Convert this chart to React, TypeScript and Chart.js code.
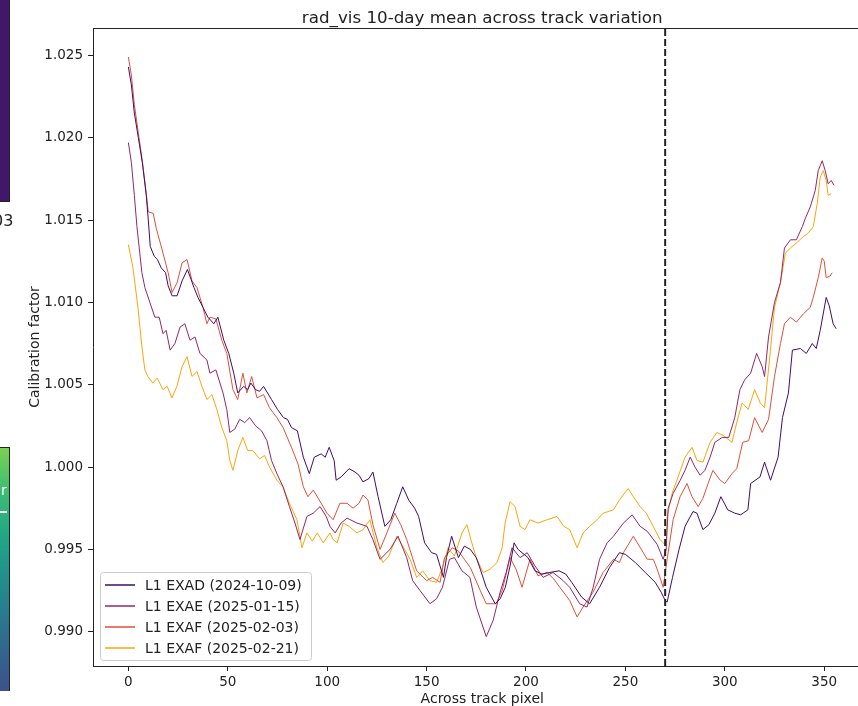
import React, { useEffect, useRef } from "react";
import { Chart, registerables } from "chart.js";

Chart.register(...registerables);

// ---------- data ----------
const chartTitle = "rad_vis 10-day mean across track variation";
const xAxisTitle = "Across track pixel";
const yAxisTitle = "Calibration factor";

const xTicks = [0, 50, 100, 150, 200, 250, 300, 350];
const yTicks = [0.99, 0.995, 1.0, 1.005, 1.01, 1.015, 1.02, 1.025];
const xLimits = [-17.8, 373.8];
const xVisibleMax = 367;
const yLimits = [0.98792, 1.02666];
const markerX = 270;

const seriesLabels = [
  "L1 EXAD (2024-10-09)",
  "L1 EXAE (2025-01-15)",
  "L1 EXAF (2025-02-03)",
  "L1 EXAF (2025-02-21)",
];
const seriesColors = ["#420a68", "#932667", "#dd513a", "#fca50a"];

const exadPoints: [number, number][] = [
  [0, 1.0243], [1.5, 1.0232], [3, 1.0215], [5, 1.02], [7, 1.0185], [9, 1.0165], [10, 1.015], [11, 1.0134],
  [13, 1.0128], [14.6, 1.0126], [16.5, 1.0121], [18.7, 1.0118], [20, 1.011], [22, 1.0104], [24.5, 1.0104],
  [27, 1.0113], [29.7, 1.012], [31.5, 1.0114], [33, 1.0109], [35, 1.0103], [37.5, 1.0097], [40, 1.0091],
  [43, 1.0087], [45, 1.0091], [48, 1.0077], [50.5, 1.0069], [53, 1.0057], [55, 1.0045], [58, 1.0049],
  [60, 1.0047], [61.6, 1.0051], [64, 1.0047], [66, 1.0046], [68, 1.0049], [72, 1.0041], [75, 1.0035],
  [78, 1.003], [80, 1.0029], [82, 1.0024], [85, 1.0022], [88, 1.0006], [91, 0.9996], [93.5, 1.0006],
  [97, 1.0008], [99, 1.0006], [101, 1.0012], [103.5, 1.0004], [104.5, 0.9992], [107, 0.9994], [111, 0.9999],
  [114, 0.9997], [116, 0.9995], [118, 0.9991], [121, 0.9993], [123, 0.9997], [125.6, 0.9982], [129, 0.9964],
  [132, 0.9968], [135, 0.9978], [138, 0.9988], [141, 0.998], [144, 0.9975], [146, 0.997], [149, 0.9954],
  [152.5, 0.9948], [155, 0.9947], [158.5, 0.9933], [160, 0.9945], [162.6, 0.9958], [166, 0.9945],
  [169, 0.9952], [172, 0.995], [175, 0.9945], [177, 0.9938], [180, 0.9927], [184.5, 0.9917], [187, 0.992],
  [189.6, 0.9927], [192, 0.994], [194, 0.9954], [196, 0.995], [198, 0.9948], [201, 0.9945], [204.5, 0.9937],
  [208, 0.9935], [212, 0.9936], [216.6, 0.9937], [220, 0.9935], [223, 0.993], [228, 0.9921], [232, 0.9917],
  [237, 0.9927], [242, 0.9939], [247, 0.9948], [250, 0.9947], [255, 0.9942], [260, 0.9936], [265, 0.993],
  [268, 0.9924], [270, 0.9919], [271, 0.9918], [273.7, 0.9933], [277, 0.995], [280, 0.9964], [284, 0.9973],
  [286, 0.9972], [289, 0.9962], [292, 0.9965], [295, 0.9972], [298, 0.9982], [301.5, 0.9974], [305, 0.9972],
  [308, 0.9971], [311.6, 0.9974], [313, 0.999], [317.7, 0.9994], [320, 1.0003], [323, 0.9992], [326.8, 1.0006],
  [329, 1.003], [332, 1.0045], [334, 1.0071], [338, 1.0072], [341, 1.0069], [344, 1.0075], [346, 1.0072],
  [348, 1.0083], [351, 1.0103], [352.5, 1.0098], [354.5, 1.0087], [356, 1.0084],
];

const exaePoints: [number, number][] = [
  [0, 1.0197], [1.5, 1.0185], [3, 1.0165], [4.3, 1.0146], [6.8, 1.0118], [8.3, 1.0109], [10.8, 1.01],
  [13.3, 1.0091], [15.5, 1.0091], [17.4, 1.0081], [19, 1.0083], [21, 1.0071], [23.4, 1.0075], [26, 1.0085],
  [28.4, 1.0087], [31, 1.0077], [33.5, 1.0079], [36, 1.0069], [39.5, 1.0065], [41, 1.0057], [44, 1.0059],
  [47.6, 1.0045], [49.5, 1.0035], [51, 1.0021], [53.5, 1.0023], [56, 1.0029], [58.5, 1.0027], [61, 1.003],
  [64, 1.0025], [67, 1.0022], [69.7, 1.0016], [72, 1.0004], [74.7, 0.9996], [77.8, 0.9988], [81, 0.9976],
  [83.8, 0.9966], [86.3, 0.9956], [89.8, 0.997], [93, 0.9972], [96.4, 0.9976], [99.5, 0.997], [101.4, 0.9964],
  [104, 0.996], [107, 0.9966], [110, 0.9969], [115, 0.9966], [120, 0.9964], [123, 0.9956], [126.6, 0.9944],
  [131.6, 0.995], [135.6, 0.9958], [140, 0.9945], [143, 0.9931], [146.7, 0.9925], [151.7, 0.9917],
  [155, 0.992], [158, 0.9927], [161.5, 0.9944], [164, 0.9945], [167.8, 0.9937], [171.8, 0.9933], [175, 0.9915],
  [180, 0.9897], [183.5, 0.9907], [187, 0.9924], [190, 0.9936], [193, 0.9951], [197, 0.9945], [200.6, 0.9948],
  [204.5, 0.994], [208.6, 0.9933], [213.6, 0.9936], [218.7, 0.9931], [222, 0.9927], [227, 0.9917],
  [230.7, 0.9915], [233.8, 0.9927], [237, 0.9944], [240.8, 0.9954], [244, 0.9958], [249, 0.9966],
  [253.4, 0.9971], [257.4, 0.9964], [261, 0.9961], [266, 0.9953], [269, 0.9944], [270.5, 0.995],
  [271.5, 0.9975], [274, 0.9984], [277.6, 0.9992], [280, 0.9998], [282.6, 1.0006], [285, 1.0], [287.6, 0.9995],
  [290, 0.9998], [292.6, 1.0006], [295, 1.0015], [298.7, 1.0018], [302, 1.0018], [305, 1.003], [307.6, 1.0047],
  [310, 1.0053], [313, 1.0057], [316, 1.0069], [318.8, 1.0061], [320, 1.0055], [322, 1.0079], [325, 1.01],
  [328, 1.0112], [330, 1.0133], [333, 1.0138], [336, 1.0138], [339, 1.0146], [340.5, 1.0151], [343, 1.0158],
  [345.5, 1.0168], [347, 1.018], [349, 1.0186], [350.5, 1.018], [352, 1.0172], [353.5, 1.0174], [355, 1.0171],
];

const exafPoints: [number, number][] = [
  [0, 1.0249], [1.5, 1.0238], [3, 1.022], [5, 1.0203], [7, 1.0186], [9, 1.0166], [10, 1.0155], [12.5, 1.0154],
  [14, 1.0145], [17.4, 1.013], [20, 1.0118], [22, 1.0106], [24.5, 1.0112], [27, 1.0124], [29.5, 1.0126],
  [32, 1.0113], [34.5, 1.0109], [37.5, 1.0097], [39.5, 1.0087], [41, 1.0091], [44, 1.009], [47, 1.0077],
  [49.5, 1.0069], [52.6, 1.0047], [55, 1.0041], [57.6, 1.0057], [59.6, 1.0045], [62, 1.0055], [64.7, 1.0042],
  [68, 1.0044], [71, 1.0036], [74.7, 1.003], [77.8, 1.0024], [82, 1.0012], [85.3, 1.0002], [88, 0.9988],
  [90.3, 0.9982], [93, 0.9986], [96, 0.998], [99.9, 0.9972], [103, 0.9968], [106.4, 0.9978], [110, 0.9978],
  [113, 0.9975], [116, 0.9978], [118, 0.9983], [120.5, 0.998], [123, 0.9965], [126.6, 0.995], [130, 0.996],
  [134, 0.9972], [137, 0.9965], [140, 0.9956], [145, 0.9937], [150, 0.9931], [153, 0.9933], [156.8, 0.993],
  [159, 0.9945], [163, 0.9951], [166, 0.9949], [169, 0.9944], [172, 0.9939], [177, 0.9925], [180, 0.9917],
  [185, 0.9917], [188, 0.9925], [192, 0.9945], [195, 0.9938], [198, 0.9927], [202, 0.9944], [206, 0.9934],
  [210.6, 0.9936], [214, 0.9932], [217, 0.9927], [222, 0.9919], [225.7, 0.9909], [228.7, 0.9915],
  [233.7, 0.9924], [238.8, 0.9936], [244, 0.9944], [247, 0.9942], [249, 0.9948], [254, 0.9958], [257, 0.9952],
  [261, 0.9944], [264, 0.9944], [266, 0.9938], [269, 0.9927], [271, 0.9944], [274, 0.9968], [277.5, 0.9982],
  [281, 0.999], [283.5, 0.9982], [286.6, 0.9976], [289, 0.9981], [291.6, 0.999], [294, 0.9998], [297.7, 0.9992],
  [300, 0.999], [303.6, 0.9996], [306, 0.9999], [309, 1.0015], [312, 1.0016], [315, 1.003], [318.8, 1.0021],
  [322, 1.0029], [325, 1.0055], [328, 1.0075], [330, 1.0087], [333, 1.0091], [336, 1.0088], [339.5, 1.0093],
  [343, 1.0097], [344.5, 1.0103], [347, 1.0115], [349, 1.0127], [350, 1.0125], [351, 1.0115], [353, 1.0116],
  [354, 1.0118],
];

const exaf2Points: [number, number][] = [
  [0, 1.0135], [2.3, 1.0121], [4.8, 1.0097], [6.8, 1.0073], [8.3, 1.0059], [9.8, 1.0055], [12.3, 1.0051],
  [14.5, 1.0054], [17.4, 1.0047], [19.5, 1.0049], [21.9, 1.0042], [24.4, 1.0049], [27, 1.0061], [29.5, 1.0067],
  [32, 1.0055], [34.5, 1.0058], [37, 1.0049], [39.5, 1.0041], [42, 1.0044], [44.5, 1.0035], [47, 1.0024],
  [49.5, 1.0016], [51, 1.0004], [52.6, 0.9998], [55, 1.001], [57.6, 1.0018], [60, 1.001], [62.6, 1.001],
  [66, 1.0005], [68.5, 1.0007], [71, 1.0], [74.7, 0.9992], [77.8, 0.9988], [81, 0.9978], [84.8, 0.9968],
  [87.3, 0.9951], [89.8, 0.996], [92.5, 0.9955], [95, 0.996], [98, 0.9954], [101.4, 0.996], [103, 0.9956],
  [105, 0.9954], [108, 0.9966], [111, 0.9964], [115, 0.996], [118, 0.9962], [121.5, 0.9968], [125, 0.9951],
  [128, 0.9942], [131, 0.9946], [135, 0.9958], [138, 0.9952], [141.7, 0.9944], [145, 0.9933], [148, 0.9937],
  [151.7, 0.9931], [155, 0.993], [158, 0.9939], [160.8, 0.9951], [164, 0.9946], [167.8, 0.996], [170.3, 0.9965],
  [172.5, 0.9955], [175, 0.9945], [178.4, 0.9936], [182, 0.9938], [185.4, 0.9942], [188, 0.9951],
  [189.5, 0.9966], [192, 0.9979], [194.5, 0.9976], [197, 0.9964], [199.5, 0.9962], [202, 0.9968],
  [206, 0.9966], [210.6, 0.9968], [215.6, 0.997], [219, 0.9964], [222, 0.9962], [225.7, 0.9951],
  [228.7, 0.996], [232, 0.9964], [235.8, 0.9968], [238.8, 0.9972], [244, 0.9974], [247, 0.998],
  [251.4, 0.9987], [254, 0.9982], [257.4, 0.9976], [260.5, 0.9972], [264, 0.9964], [267.4, 0.9956],
  [269, 0.9954], [270.5, 0.9952], [271, 0.997], [273.5, 0.9984], [276.5, 0.9994], [280, 1.0006],
  [283.5, 1.0012], [286, 1.0004], [289, 1.0003], [292.6, 1.0015], [296, 1.0021], [299.5, 1.0019],
  [303.6, 1.0015], [306, 1.0027], [308.7, 1.0039], [311.8, 1.0035], [315, 1.0047], [317.8, 1.0039],
  [320, 1.0036], [322.8, 1.0069], [325, 1.0097], [328, 1.0112], [330.5, 1.013], [333, 1.0133], [336, 1.0136],
  [339.5, 1.014], [342, 1.0142], [344.5, 1.0146], [346.5, 1.016], [348, 1.0176], [349.5, 1.018],
  [351, 1.0174], [352, 1.0165], [353.5, 1.0166],
];

const seriesPoints = [exadPoints, exaePoints, exafPoints, exaf2Points];

// ---------- styling ----------
const FONT = "'DejaVu Sans', 'Liberation Sans', sans-serif";
const INK = "#222222";

const decorPlugin = {
  id: "decor",
  afterDatasetsDraw(chart: any) {
    const { ctx, chartArea, scales } = chart;
    const xs = scales.x;
    // dashed marker line
    const mx = xs.getPixelForValue(markerX);
    ctx.save();
    ctx.strokeStyle = INK;
    ctx.lineWidth = 2;
    ctx.setLineDash([7, 3]);
    ctx.beginPath();
    ctx.moveTo(mx, chartArea.bottom);
    ctx.lineTo(mx, chartArea.top);
    ctx.stroke();
    ctx.restore();
  },
  afterDraw(chart: any) {
    const { ctx, chartArea, scales } = chart;
    const xs = scales.x;
    ctx.save();
    // top spine
    ctx.strokeStyle = INK;
    ctx.lineWidth = 1;
    ctx.beginPath();
    ctx.moveTo(chartArea.left, chartArea.top + 0.5);
    ctx.lineTo(chartArea.right, chartArea.top + 0.5);
    ctx.stroke();
    // title and x-axis title, centred on the full axes width
    const cx = xs.getPixelForValue((xLimits[0] + xLimits[1]) / 2);
    ctx.fillStyle = INK;
    ctx.font = `16.7px ${FONT}`;
    ctx.textAlign = "center";
    ctx.textBaseline = "alphabetic";
    ctx.fillText(chartTitle, cx, 23);
    ctx.font = `14px ${FONT}`;
    ctx.fillText(xAxisTitle, cx, 703);

    // legend
    const boxL = chartArea.left + 7;
    const boxW = 211;
    const boxH = 88;
    const boxT = chartArea.bottom - 6 - boxH;
    ctx.fillStyle = "rgba(255,255,255,0.8)";
    ctx.strokeStyle = "#cccccc";
    ctx.lineWidth = 1;
    ctx.beginPath();
    (ctx as any).roundRect(boxL + 0.5, boxT + 0.5, boxW, boxH, 3);
    ctx.fill();
    ctx.stroke();
    ctx.font = `14px ${FONT}`;
    ctx.textAlign = "left";
    ctx.textBaseline = "middle";
    chart.data.datasets.forEach((ds: any, i: number) => {
      const y = boxT + 13 + i * 21;
      ctx.strokeStyle = ds.borderColor;
      ctx.lineWidth = 1.5;
      ctx.beginPath();
      ctx.moveTo(boxL + 5, y);
      ctx.lineTo(boxL + 35, y);
      ctx.stroke();
      ctx.fillStyle = INK;
      ctx.fillText(ds.label, boxL + 45, y + 1);
    });
    ctx.restore();
  },
};

export default function App() {
  const canvasRef = useRef<HTMLCanvasElement | null>(null);

  useEffect(() => {
    if (!canvasRef.current) return;
    const chart = new Chart(canvasRef.current, {
      type: "line",
      data: {
        datasets: seriesPoints.map((pts, i) => ({
          label: seriesLabels[i],
          data: pts.map(([x, y]) => ({ x, y })),
          borderColor: seriesColors[i],
          borderWidth: 1,
          pointRadius: 0,
          fill: false,
          tension: 0,
        })),
      },
      options: {
        animation: false,
        responsive: false,
        maintainAspectRatio: false,
        devicePixelRatio: 1,
        layout: { padding: { top: 28, left: 0, right: 0, bottom: 0 } },
        plugins: {
          legend: { display: false },
          title: { display: false },
          tooltip: { enabled: false },
        },
        scales: {
          x: {
            type: "linear",
            min: xLimits[0],
            max: xVisibleMax,
            afterBuildTicks: (s: any) => {
              s.ticks = xTicks.map((v) => ({ value: v }));
            },
            afterFit: (s: any) => {
              s.height = 40;
            },
            ticks: {
              color: INK,
              font: { family: FONT, size: 13.5 },
              padding: 3,
              maxRotation: 0,
              callback: (v: any) => String(v),
            },
            grid: {
              display: true,
              drawOnChartArea: false,
              drawTicks: true,
              tickLength: 5,
              color: INK,
            },
            border: { display: true, color: INK, width: 1 },
            title: { display: false },
          },
          y: {
            type: "linear",
            min: yLimits[0],
            max: yLimits[1],
            afterBuildTicks: (s: any) => {
              s.ticks = yTicks.map((v) => ({ value: v }));
            },
            afterFit: (s: any) => {
              s.width = 93;
            },
            ticks: {
              color: INK,
              font: { family: FONT, size: 13.5 },
              padding: 5,
              callback: (v: any) => Number(v).toFixed(3),
            },
            grid: {
              display: true,
              drawOnChartArea: false,
              drawTicks: true,
              tickLength: 5,
              color: INK,
            },
            border: { display: true, color: INK, width: 1 },
            title: {
              display: true,
              text: yAxisTitle,
              color: INK,
              font: { family: FONT, size: 14 },
              padding: { top: 27, bottom: 0 },
            },
          },
        },
      },
      plugins: [decorPlugin],
    });
    return () => chart.destroy();
  }, []);

  return (
    <div
      style={{
        position: "fixed",
        left: 0,
        top: 0,
        width: 858,
        height: 706,
        overflow: "hidden",
        background: "#ffffff",
      }}
    >
      <canvas
        ref={canvasRef}
        width={858}
        height={706}
        style={{ position: "absolute", left: 0, top: 0, width: 858, height: 706 }}
      />
      {/* fragments of neighbouring panels at the left edge */}
      <div
        style={{
          position: "absolute",
          left: 0,
          top: 0,
          width: 9,
          height: 201,
          background: "#41176b",
          borderRight: "1px solid #222",
          borderBottom: "1px solid #222",
        }}
      />
      <div
        style={{
          position: "absolute",
          left: -7,
          top: 212,
          font: `16px ${FONT}`,
          color: "#222",
          lineHeight: "18px",
        }}
      >
        03
      </div>
      <div
        style={{
          position: "absolute",
          left: 0,
          top: 447,
          width: 9,
          height: 243,
          background:
            "linear-gradient(to bottom, #7ad151 0%, #3dbc74 18%, #22a884 35%, #21918c 52%, #2a788e 70%, #355f8d 88%, #3b528b 100%)",
          borderTop: "1px solid #222",
          borderRight: "1px solid #222",
        }}
      />
      <div
        style={{
          position: "absolute",
          left: 1,
          top: 482,
          font: `14px ${FONT}`,
          color: "#ffffff",
          lineHeight: "16px",
        }}
      >
        r
      </div>
      <div
        style={{ position: "absolute", left: 0, top: 511, width: 7, height: 2, background: "#ffffff" }}
      />
    </div>
  );
}
